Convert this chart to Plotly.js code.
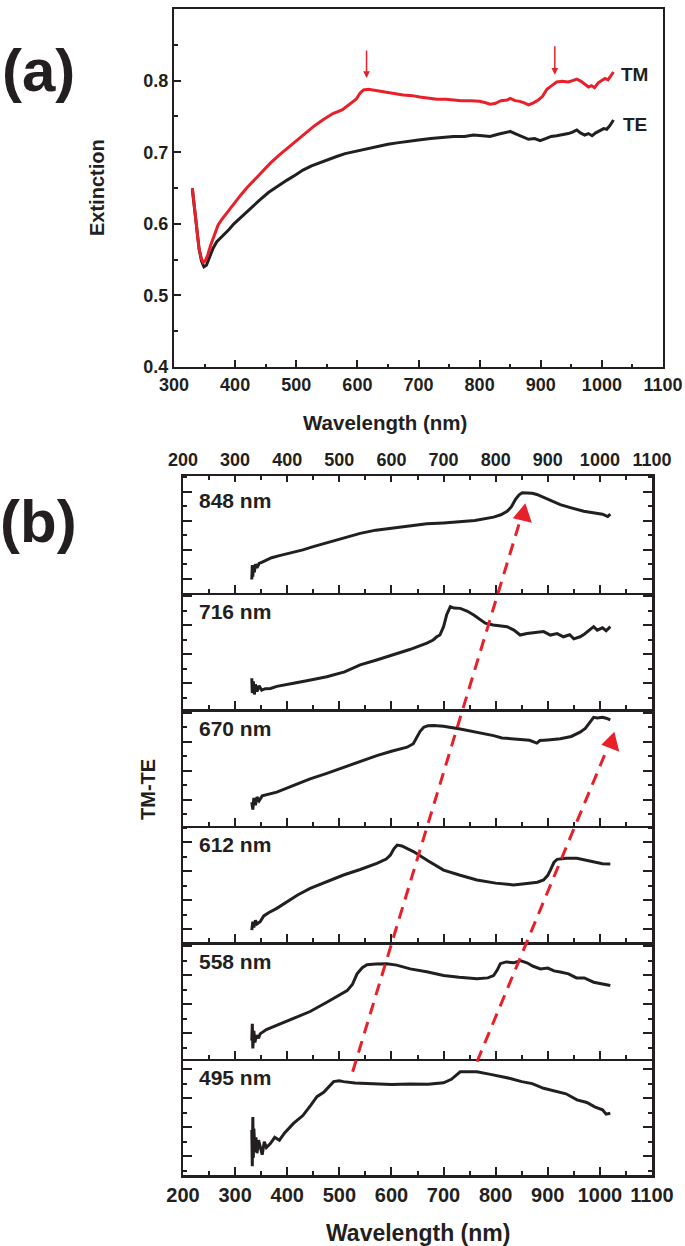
<!DOCTYPE html>
<html>
<head>
<meta charset="utf-8">
<script src="https://cdn.plot.ly/plotly-3.0.1.min.js"></script>
<style>html,body{margin:0;padding:0;background:#fff;}#chart{width:685px;height:1246px;}</style>
</head>
<body>
<div id="chart"></div>
<script>
// ---------- Panel (a) data: extinction spectra ----------
const tmWavelength = [330,333,337,341,345,348,351,355,360,366,372,378,385,392,400,410,420,432,445,458,472,486,500,515,530,545,560,575,590,598,604,610,618,626,636,648,660,675,690,702,715,730,745,757,770,785,800,810,817,825,835,845,850,858,866,873,880,888,896,903,910,918,926,935,945,952,959,966,972,978,983,988,994,1000,1005,1010,1014,1019];
const tmExtinction = [0.650,0.625,0.590,0.565,0.551,0.546,0.548,0.556,0.570,0.585,0.598,0.606,0.614,0.622,0.631,0.641,0.651,0.662,0.674,0.685,0.696,0.706,0.716,0.727,0.737,0.746,0.754,0.759,0.768,0.774,0.782,0.787,0.788,0.787,0.786,0.784,0.782,0.780,0.779,0.777,0.776,0.774,0.774,0.773,0.772,0.772,0.771,0.769,0.767,0.768,0.772,0.773,0.775,0.772,0.771,0.769,0.766,0.769,0.773,0.778,0.788,0.793,0.798,0.799,0.798,0.800,0.802,0.799,0.795,0.791,0.793,0.790,0.797,0.800,0.803,0.801,0.806,0.812];
const teWavelength = [330,333,337,341,345,349,353,358,364,370,376,382,390,398,408,418,430,440,455,470,485,500,511,525,540,555,566,580,595,610,620,635,650,665,680,700,720,740,757,775,790,805,817,830,842,850,858,866,873,880,890,899,908,917,926,935,945,952,959,965,972,978,984,990,996,1003,1008,1013,1019];
const teExtinction = [0.648,0.625,0.592,0.565,0.548,0.540,0.542,0.553,0.566,0.575,0.580,0.584,0.592,0.600,0.608,0.616,0.626,0.633,0.644,0.653,0.661,0.669,0.675,0.681,0.686,0.691,0.694,0.698,0.701,0.704,0.706,0.709,0.711,0.713,0.715,0.717,0.719,0.721,0.722,0.722,0.724,0.723,0.722,0.725,0.728,0.729,0.726,0.723,0.720,0.718,0.719,0.716,0.719,0.722,0.723,0.724,0.726,0.728,0.731,0.727,0.724,0.726,0.723,0.727,0.730,0.733,0.732,0.737,0.745];

// ---------- Panel (b) data: TM-TE difference spectra (arbitrary units) ----------
const panelLabels = ["848 nm","716 nm","670 nm","612 nm","558 nm","495 nm"];
const wl848 = [332,333,334,335,337,339,342,346,352,360,370,385,400,412,430,450,476,500,520,540,570,604,640,668,700,732,760,796,810,822,830,838,845,851,860,870,879,890,905,924,945,969,990,1005,1015,1020];
const diff848 = [0.45,0.95,0.55,0.90,0.70,0.98,0.85,1.00,1.05,1.12,1.20,1.27,1.33,1.38,1.47,1.58,1.71,1.82,1.93,2.04,2.15,2.23,2.31,2.37,2.40,2.43,2.48,2.60,2.68,2.80,2.95,3.21,3.37,3.44,3.43,3.42,3.38,3.30,3.18,3.03,2.92,2.80,2.74,2.70,2.62,2.70];
const wl716 = [332,333,335,337,339,342,346,351,358,368,380,395,412,440,476,510,540,570,604,635,668,680,687,693,700,706,713,720,732,745,758,768,780,795,810,822,835,847,860,875,892,905,918,930,942,950,962,970,978,988,995,1005,1012,1020];
const diff716 = [1.06,0.55,0.95,0.50,0.85,0.60,0.80,0.65,0.70,0.71,0.78,0.84,0.89,0.98,1.11,1.28,1.52,1.68,1.86,2.05,2.27,2.38,2.49,2.55,2.84,3.25,3.53,3.48,3.47,3.38,3.24,3.12,2.96,2.90,2.86,2.84,2.72,2.55,2.60,2.64,2.67,2.55,2.60,2.49,2.56,2.42,2.49,2.58,2.70,2.84,2.72,2.80,2.70,2.84];
const wl670 = [332,334,336,339,342,346,352,360,380,410,444,476,508,540,572,600,630,642,649,655,662,670,681,700,732,765,796,812,828,845,865,879,885,900,924,945,962,972,980,988,995,1005,1012,1020];
const diff670 = [0.80,0.55,0.95,0.70,0.98,0.85,1.02,1.05,1.15,1.37,1.61,1.80,2.01,2.20,2.41,2.56,2.70,2.82,3.04,3.25,3.39,3.44,3.45,3.42,3.33,3.22,3.10,3.02,2.99,2.97,2.94,2.84,2.93,2.95,2.99,3.07,3.22,3.35,3.55,3.73,3.71,3.73,3.70,3.64];
const wl612 = [332,334,336,339,342,348,355,365,380,400,420,444,476,508,540,572,590,598,605,611,620,643,670,700,732,764,800,834,860,880,892,900,905,912,918,935,956,975,990,1005,1020];
const diff612 = [0.41,0.70,0.50,0.75,0.62,0.70,0.90,1.02,1.16,1.40,1.62,1.85,2.09,2.31,2.50,2.71,2.86,3.00,3.22,3.34,3.31,3.11,2.80,2.48,2.30,2.14,2.03,1.97,2.02,2.06,2.14,2.30,2.48,2.75,2.85,2.89,2.89,2.82,2.76,2.70,2.69];
const wl558 = [332,333,334,336,338,341,345,348,360,380,412,444,476,500,515,525,534,544,553,570,591,610,636,670,700,730,764,785,796,803,809,820,835,847,860,872,886,900,912,924,940,955,970,988,1000,1010,1020];
const diff558 = [0.62,1.20,0.35,0.95,0.55,0.80,0.70,0.85,1.00,1.15,1.37,1.62,1.94,2.18,2.34,2.55,2.92,3.13,3.23,3.26,3.27,3.22,3.09,2.98,2.86,2.80,2.75,2.78,2.86,3.05,3.27,3.33,3.30,3.38,3.30,3.18,3.09,3.12,3.02,2.98,2.92,2.78,2.78,2.63,2.58,2.56,2.52];
const wl495 = [332,333,334,335,336,338,340,342,345,348,352,356,360,368,376,385,395,412,430,445,457,470,480,489,500,508,530,550,572,600,636,670,700,715,732,748,764,790,810,828,850,870,892,915,935,956,975,990,1005,1012,1020];
const diff495 = [1.55,0.30,2.00,0.60,1.60,0.80,1.30,0.75,1.20,0.98,0.70,1.15,0.95,1.09,1.30,1.20,1.45,1.78,2.05,2.40,2.70,2.85,3.05,3.22,3.25,3.22,3.17,3.15,3.14,3.12,3.14,3.13,3.18,3.30,3.56,3.55,3.56,3.47,3.40,3.33,3.22,3.15,2.99,2.90,2.80,2.59,2.50,2.35,2.25,2.10,2.13];

const panelWl = [wl848, wl716, wl670, wl612, wl558, wl495];
const panelDiff = [diff848, diff716, diff670, diff612, diff558, diff495];

// ---------- layout helpers ----------
const W = 685, H = 1246;
const px = v => v / W;
const py = v => 1 - v / H;
const FONT = 'Liberation Sans, Arial, Helvetica, sans-serif';
const INK = '#231f20';
const RED = '#e8202a';

const traces = [
  {x: teWavelength, y: teExtinction, xaxis: 'x', yaxis: 'y', mode: 'lines', line: {color: INK, width: 3}, hoverinfo: 'skip'},
  {x: tmWavelength, y: tmExtinction, xaxis: 'x', yaxis: 'y', mode: 'lines', line: {color: RED, width: 3}, hoverinfo: 'skip'}
];

const layout = {
  width: W, height: H,
  margin: {l: 0, r: 0, t: 0, b: 0},
  paper_bgcolor: '#fff', plot_bgcolor: 'rgba(0,0,0,0)',
  showlegend: false,
  font: {family: FONT, color: INK, size: 18, weight: 700},
  xaxis: {
    domain: [px(174), px(663)], anchor: 'y', range: [300, 1100], dtick: 100, tick0: 0,
    showline: true, linewidth: 2, linecolor: INK, mirror: true, showgrid: false, zeroline: false,
    ticks: 'inside', ticklen: 7, tickwidth: 2, tickcolor: INK,
    minor: {dtick: 50, tick0: 0, ticks: 'inside', ticklen: 3.5, tickwidth: 2, tickcolor: INK},
    tickfont: {family: FONT, size: 18, color: INK, weight: 700}
  },
  yaxis: {
    domain: [py(367), py(9)], anchor: 'x', range: [0.4, 0.9], dtick: 0.1, tick0: 0, tickformat: '.1f',
    showline: true, linewidth: 2, linecolor: INK, mirror: true, showgrid: false, zeroline: false,
    ticks: 'inside', ticklen: 7, tickwidth: 2, tickcolor: INK,
    minor: {dtick: 0.05, tick0: 0, ticks: 'inside', ticklen: 3.5, tickwidth: 2, tickcolor: INK},
    tickfont: {family: FONT, size: 18, color: INK, weight: 700}
  },
  annotations: [],
  shapes: []
};

const tick0s = [0.47, 0.886, 0.886, 0.44, 0.87, 0.655];
const subH = 116.5, topB = 476;
for (let i = 0; i < 6; i++) {
  const n = i + 2;
  const top = topB + i * subH, bot = top + subH;
  traces.push({x: panelWl[i], y: panelDiff[i], xaxis: 'x' + n, yaxis: 'y' + n, mode: 'lines',
    line: {color: INK, width: 3}, hoverinfo: 'skip'});
  layout['xaxis' + n] = {
    domain: [px(183), px(652)], anchor: 'y' + n, range: [200, 1100], dtick: 100, tick0: 0,
    showline: true, linewidth: 2.5, linecolor: INK, mirror: false, showgrid: false, zeroline: false,
    ticks: 'inside', ticklen: 8, tickwidth: 2, tickcolor: INK,
    minor: {dtick: 50, tick0: 0, ticks: 'inside', ticklen: 4, tickwidth: 2, tickcolor: INK},
    showticklabels: i === 5,
    tickfont: {family: FONT, size: 20, color: INK, weight: 700}
  };
  layout['yaxis' + n] = {
    domain: [py(bot), py(top)], anchor: 'x' + n, range: [0, subH / 29], dtick: 1, tick0: tick0s[i],
    showline: true, linewidth: 2.5, linecolor: INK, mirror: 'ticks', showgrid: false, zeroline: false,
    ticks: 'inside', ticklen: 9, tickwidth: 2, tickcolor: INK,
    minor: {dtick: 0.5, tick0: tick0s[i], ticks: 'inside', ticklen: 4, tickwidth: 2, tickcolor: INK},
    showticklabels: false
  };
  layout.annotations.push({xref: 'paper', yref: 'paper', x: px(197), y: py(top + (i === 0 ? 24.5 : 19)),
    xanchor: 'left', yanchor: 'middle', showarrow: false, text: panelLabels[i],
    font: {family: FONT, size: 21, color: INK, weight: 700}});
}
// top axis of panel (b)
traces.push({x: [200, 1100], y: [null, null], xaxis: 'x8', yaxis: 'y2', mode: 'lines', hoverinfo: 'skip', showlegend: false});
layout.xaxis8 = {
  overlaying: 'x2', side: 'top', anchor: 'y2', range: [200, 1100], dtick: 100, tick0: 0,
  showline: true, linewidth: 2.5, linecolor: INK, showgrid: false, zeroline: false,
  ticks: 'inside', ticklen: 6, tickwidth: 2, tickcolor: INK,
  minor: {dtick: 50, tick0: 0, ticks: 'inside', ticklen: 4, tickwidth: 2, tickcolor: INK},
  tickfont: {family: FONT, size: 18, color: INK, weight: 700}
};

// text labels
const txt = (x, y, t, size, extra) => Object.assign({xref: 'paper', yref: 'paper', x: x, y: y, text: t, showarrow: false,
  xanchor: 'center', yanchor: 'middle', font: {family: FONT, size: size, color: INK, weight: 700}}, extra || {});
layout.annotations.push(txt(px(385), py(423), 'Wavelength (nm)', 20.5));
layout.annotations.push(txt(px(417.5), py(1233), 'Wavelength (nm)', 23));
layout.annotations.push(txt(px(97), py(188), 'Extinction', 20, {textangle: -90}));
layout.annotations.push(txt(px(148), py(790), 'TM-TE', 20, {textangle: -90}));
layout.annotations.push(txt(px(38), py(70), '(a)', 60));
layout.annotations.push(txt(px(38), py(521), '(b)', 60));
layout.annotations.push({xref: 'x', yref: 'y', x: 1028, y: 0.809, text: 'TM', showarrow: false, xanchor: 'left', yanchor: 'middle',
  font: {family: FONT, size: 19, color: INK, weight: 700}});
layout.annotations.push({xref: 'x', yref: 'y', x: 1031, y: 0.739, text: 'TE', showarrow: false, xanchor: 'left', yanchor: 'middle',
  font: {family: FONT, size: 19, color: INK, weight: 700}});
// red down arrows in panel (a)
[[615, 0.844, 0.8036], [923, 0.850, 0.808]].forEach(a => {
  layout.annotations.push({xref: 'x', yref: 'y', axref: 'x', ayref: 'y', x: a[0], y: a[2], ax: a[0], ay: a[1],
    text: '', showarrow: true, arrowhead: 2, arrowsize: 0.9, arrowwidth: 1.5, arrowcolor: RED, standoff: 0});
});
// red dashed arrows across panel (b)
layout.shapes.push({type: 'line', xref: 'x2', yref: 'paper', x0: 525.6, y0: 0.13988, x1: 846.9, y1: 0.58226,
  line: {color: RED, width: 3, dash: '12px,8px'}});
layout.shapes.push({type: 'line', xref: 'x2', yref: 'paper', x0: 764.2, y0: 0.14791, x1: 1014.4, y1: 0.39944,
  line: {color: RED, width: 3, dash: '12px,8px'}});
layout.shapes.push({type: 'path', xref: 'x2', yref: 'paper', xsizemode: 'pixel', ysizemode: 'pixel',
  xanchor: 856.9, yanchor: 0.59607, path: 'M0,0 L6.5,-19.5 L-12.5,-15 Z', fillcolor: RED, line: {width: 0}});
layout.shapes.push({type: 'path', xref: 'x2', yref: 'paper', xsizemode: 'pixel', ysizemode: 'pixel',
  xanchor: 1027.7, yanchor: 0.41276, path: 'M0,0 L5,-20 L-13,-13 Z', fillcolor: RED, line: {width: 0}});

Plotly.newPlot('chart', traces, layout, {staticPlot: true, displayModeBar: false});
</script>
</body>
</html>
